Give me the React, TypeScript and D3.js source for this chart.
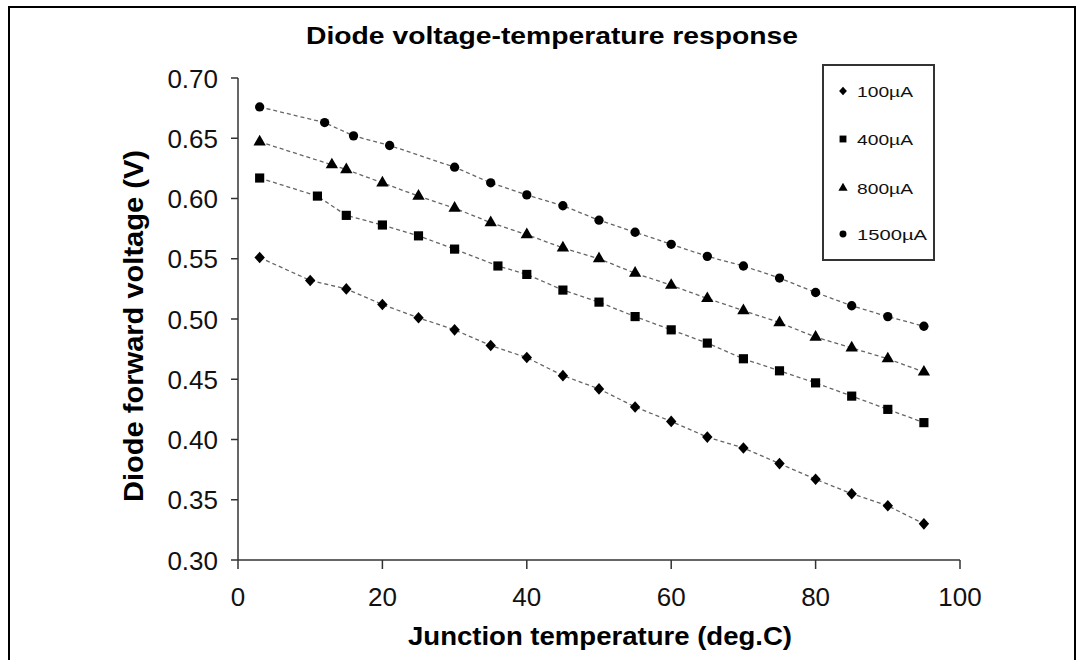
import React from "react";
import * as d3 from "d3";

const seriesNames = ["100µA", "400µA", "800µA", "1500µA"];
const seriesSymbols = ["diamond", "square", "triangle", "circle"];

const temps100 = [3, 10, 15, 20, 25, 30, 35, 40, 45, 50, 55, 60, 65, 70, 75, 80, 85, 90, 95];
const volts100 = [0.551, 0.532, 0.525, 0.512, 0.501, 0.491, 0.478, 0.468, 0.453, 0.442, 0.427, 0.415, 0.402, 0.393, 0.38, 0.367, 0.355, 0.345, 0.33];

const temps400 = [3, 11, 15, 20, 25, 30, 36, 40, 45, 50, 55, 60, 65, 70, 75, 80, 85, 90, 95];
const volts400 = [0.617, 0.602, 0.586, 0.578, 0.569, 0.558, 0.544, 0.537, 0.524, 0.514, 0.502, 0.491, 0.48, 0.467, 0.457, 0.447, 0.436, 0.425, 0.414];

const temps800 = [3, 13, 15, 20, 25, 30, 35, 40, 45, 50, 55, 60, 65, 70, 75, 80, 85, 90, 95];
const volts800 = [0.647, 0.628, 0.624, 0.613, 0.602, 0.592, 0.58, 0.57, 0.559, 0.55, 0.538, 0.528, 0.517, 0.507, 0.497, 0.485, 0.476, 0.467, 0.456];

const temps1500 = [3, 12, 16, 21, 30, 35, 40, 45, 50, 55, 60, 65, 70, 75, 80, 85, 90, 95];
const volts1500 = [0.676, 0.663, 0.652, 0.644, 0.626, 0.613, 0.603, 0.594, 0.582, 0.572, 0.562, 0.552, 0.544, 0.534, 0.522, 0.511, 0.502, 0.494];

const xTicks = [0, 20, 40, 60, 80, 100];
const yTicks = [0.3, 0.35, 0.4, 0.45, 0.5, 0.55, 0.6, 0.65, 0.7];

const allTemps = [temps100, temps400, temps800, temps1500];
const allVolts = [volts100, volts400, volts800, volts1500];

const FONT = "'Liberation Sans', Arial, sans-serif";

function symbolPath(kind: string, scale: number) {
  if (kind === "diamond") {
    const w = 5.2 * scale, h = 5.8 * scale;
    return `M0,${-h}L${w},0L0,${h}L${-w},0Z`;
  }
  const t = kind === "square" ? d3.symbolSquare : kind === "triangle" ? d3.symbolTriangle : d3.symbolCircle;
  const base = kind === "square" ? 84 : kind === "triangle" ? 66 : 68;
  return d3.symbol().type(t).size(base * scale * scale)() as string;
}

export default function App() {
  const x = d3.scaleLinear().domain([0, 100]).range([238, 960]);
  const y = d3.scaleLinear().domain([0.3, 0.7]).range([560, 78]);
  const line = d3.line<[number, number]>().x((d) => x(d[0])).y((d) => y(d[1]));

  return (
    <svg width={1083} height={660} style={{ position: "absolute", left: 0, top: 0, background: "#fff" }} fontFamily={FONT}>
      <rect x={0} y={0} width={1083} height={660} fill="#fff" />
      <rect x={9} y={7} width={1066} height={700} fill="none" stroke="#000" strokeWidth={2} />

      <text x={552} y={44} textAnchor="middle" fontSize={24} fontWeight="bold" textLength={492} lengthAdjust="spacingAndGlyphs">
        Diode voltage-temperature response
      </text>

      {allTemps.map((ts, i) => (
        <path
          key={"l" + i}
          d={line(ts.map((t, j) => [t, allVolts[i][j]] as [number, number])) as string}
          fill="none"
          stroke="#666"
          strokeWidth={1.3}
          strokeDasharray="4,3"
        />
      ))}

      {allTemps.map((ts, i) =>
        ts.map((t, j) => (
          <path
            key={"m" + i + "-" + j}
            transform={`translate(${x(t)},${y(allVolts[i][j])})`}
            d={symbolPath(seriesSymbols[i], 1)}
            fill="#000"
          />
        ))
      )}

      <line x1={238} x2={238} y1={y(0.7)} y2={y(0.3)} stroke="#333" strokeWidth={1.5} />
      <line x1={238} x2={x(100)} y1={560} y2={560} stroke="#333" strokeWidth={1.5} />
      {yTicks.map((v) => (
        <g key={"yt" + v}>
          <line x1={231} x2={238} y1={y(v)} y2={y(v)} stroke="#333" strokeWidth={1.5} />
          <text x={218} y={y(v) + 9.5} textAnchor="end" fontSize={26} fill="#111">
            {v.toFixed(2)}
          </text>
        </g>
      ))}
      {xTicks.map((v) => (
        <g key={"xt" + v}>
          <line x1={x(v)} x2={x(v)} y1={560} y2={569} stroke="#333" strokeWidth={1.5} />
          <text x={x(v)} y={606} textAnchor="middle" fontSize={26} fill="#111">
            {v}
          </text>
        </g>
      ))}

      <text x={600} y={645} textAnchor="middle" fontSize={25} fontWeight="bold" textLength={384} lengthAdjust="spacingAndGlyphs">
        Junction temperature (deg.C)
      </text>
      <text
        transform="translate(143,326) rotate(-90)"
        textAnchor="middle"
        fontSize={27}
        fontWeight="bold"
        textLength={352}
        lengthAdjust="spacingAndGlyphs"
      >
        Diode forward voltage (V)
      </text>

      <rect x={823} y={65} width={111} height={195} fill="#fff" stroke="#333" strokeWidth={2} />
      {seriesNames.map((name, i) => {
        const ly = [91, 139, 188, 234][i];
        return (
          <g key={"lg" + i}>
            <path transform={`translate(843,${ly})`} d={symbolPath(seriesSymbols[i], 0.75)} fill="#000" />
            <text x={857} y={ly + 5.5} fontSize={15.5} fill="#111" textLength={name.length === 5 ? 56 : 70} lengthAdjust="spacingAndGlyphs">
              {name}
            </text>
          </g>
        );
      })}
    </svg>
  );
}
